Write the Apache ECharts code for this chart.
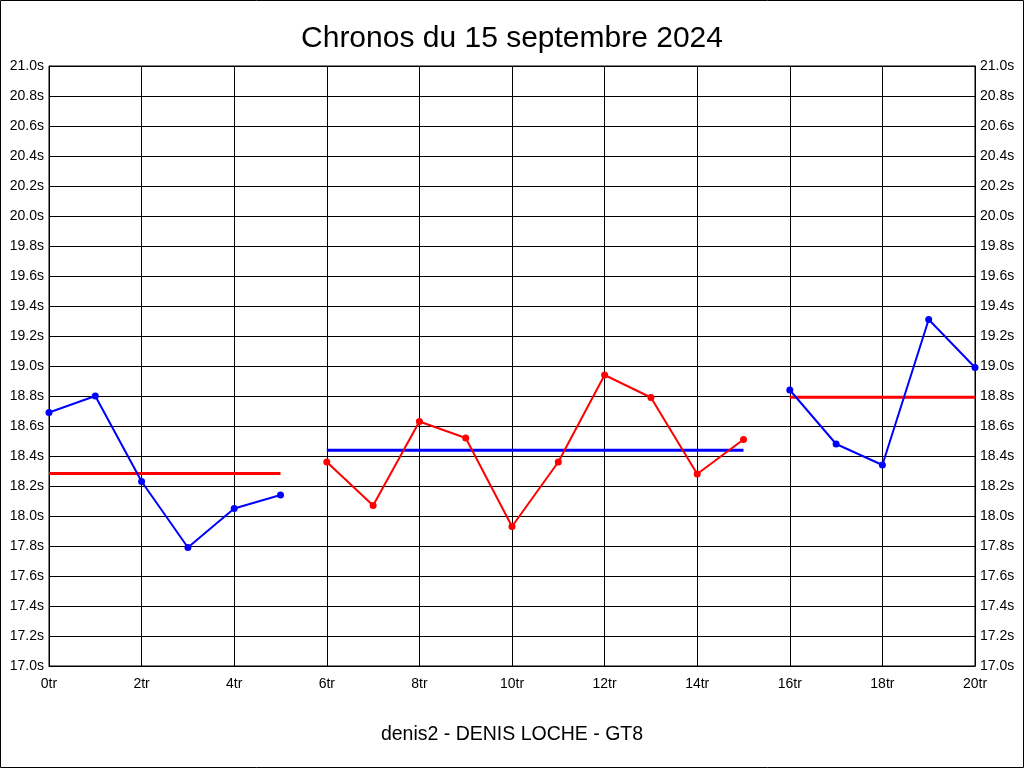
<!DOCTYPE html>
<html><head><meta charset="utf-8">
<script src="https://cdn.jsdelivr.net/npm/echarts@6/dist/echarts.min.js"></script>
<style>html,body{margin:0;padding:0;background:#fff}#c{width:1024px;height:768px}</style>
</head><body><div id="c"></div>
<script>
const titleText = "Chronos du 15 septembre 2024";
const subText = "denis2 - DENIS LOCHE - GT8";
const group1Laps = [0,1,2,3,4,5];
const group1Times = [18.69,18.80,18.23,17.79,18.05,18.14];
const group2Laps = [6,7,8,9,10,11,12,13,14,15];
const group2Times = [18.36,18.07,18.63,18.52,17.93,18.36,18.94,18.79,18.28,18.51];
const group3Laps = [16,17,18,19,20];
const group3Times = [18.84,18.48,18.34,19.31,18.99];
const groupColors = ['#0000ff','#ff0000','#0000ff'];
const meanColors = ['#ff0000','#0000ff','#ff0000'];

const groups = [[group1Laps,group1Times],[group2Laps,group2Times],[group3Laps,group3Times]];
const series = [];
groups.forEach((g,i)=>{
  const laps=g[0], times=g[1];
  const mean = times.reduce((a,b)=>a+b,0)/times.length;
  series.push({type:'line',data:[[laps[0],mean],[laps[laps.length-1],mean]],showSymbol:false,
    lineStyle:{color:meanColors[i],width:3},itemStyle:{color:meanColors[i]},silent:true,z:2});
  series.push({type:'line',data:laps.map((l,k)=>[l,times[k]]),symbol:'circle',symbolSize:7,
    lineStyle:{color:groupColors[i],width:2},itemStyle:{color:groupColors[i]},z:3});
});
const yLabel = v => v.toFixed(1)+'s';
const axisFont = {fontFamily:'Liberation Sans, Arial, sans-serif',fontSize:14,color:'#000'};
const chart = echarts.init(document.getElementById('c'));
chart.setOption({
  animation:false,
  backgroundColor:'#fff',
  title:[{text:titleText,left:'center',top:19,textStyle:{fontFamily:'Liberation Sans, Arial, sans-serif',fontSize:30,fontWeight:'normal',color:'#000'}},
         {text:subText,left:'center',top:720,textStyle:{fontFamily:'Liberation Sans, Arial, sans-serif',fontSize:19.5,fontWeight:'normal',color:'#000'}}],
  grid:{left:49,right:49,top:66,bottom:102,show:true,borderColor:'#000',borderWidth:1},
  xAxis:{type:'value',min:0,max:20,interval:2,axisLine:{show:true,lineStyle:{color:'#000'}},axisTick:{show:false},
    splitLine:{show:true,lineStyle:{color:'#000',width:1}},axisLabel:Object.assign({formatter:v=>v+'tr',margin:11},axisFont)},
  yAxis:[{type:'value',min:17,max:21,interval:0.2,axisLine:{show:true,lineStyle:{color:'#000'}},axisTick:{show:false},
    splitLine:{show:true,lineStyle:{color:'#000',width:1}},axisLabel:Object.assign({formatter:yLabel,margin:5},axisFont)},
    {type:'value',min:17,max:21,interval:0.2,position:'right',axisLine:{show:true,lineStyle:{color:'#000'}},axisTick:{show:false},
    splitLine:{show:false},axisLabel:Object.assign({formatter:yLabel,margin:5},axisFont)}],
  graphic:[{type:'rect',shape:{x:0.5,y:0.5,width:1023,height:767},style:{fill:null,stroke:'#000',lineWidth:1},silent:true}],
  series:series
});
</script></body></html>
